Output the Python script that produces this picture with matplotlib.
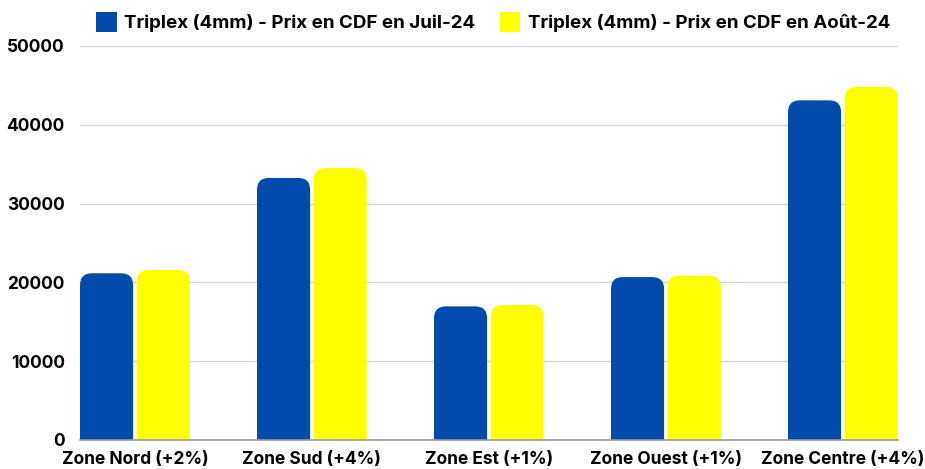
import numpy as np
import matplotlib
matplotlib.use("Agg")
import matplotlib.pyplot as plt
from matplotlib.patches import FancyBboxPatch, Patch

zones = ['Zone Nord (+2%)', 'Zone Sud (+4%)', 'Zone Est (+1%)', 'Zone Ouest (+1%)', 'Zone Centre (+4%)']
prixJuil = [21150, 33250, 16950, 20670, 43100]
prixAout = [21570, 34500, 17120, 20850, 44800]
labelJuil = 'Triplex (4mm) - Prix en CDF en Juil-24'
labelAout = 'Triplex (4mm) - Prix en CDF en Août-24'
yTicks = [0, 10000, 20000, 30000, 40000, 50000]

blue = '#024AAC'
yellow = '#FFFF00'

plt.rcParams['font.family'] = ['Inter', 'DejaVu Sans']
plt.rcParams['font.weight'] = 'bold'

fig = plt.figure(figsize=(9.25, 4.69), dpi=100)
ax = fig.add_axes([0.0865, 0.062, 0.884, 0.840])
ax.set_xlim(-0.31, 4.31)
ax.set_ylim(0, 50000)

x = np.arange(len(zones))
barWidth = 0.30
offset = 0.16

# px -> data conversion, to get same corner radius on both axes
fig.canvas.draw()
pxPerX = ax.transData.transform((1, 0))[0] - ax.transData.transform((0, 0))[0]
pxPerY = ax.transData.transform((0, 10000))[1] - ax.transData.transform((0, 0))[1]
radiusPx = 12
rx = radiusPx / pxPerX
ry = radiusPx / pxPerY * 10000
aspect = (10000 / pxPerY) / (1 / pxPerX)

def roundedBars(xs, values, color):
    for xi, v in zip(xs, values):
        patch = FancyBboxPatch((xi - barWidth / 2, -ry), barWidth, v + ry,
                               boxstyle=f"round,pad=0,rounding_size={rx}",
                               mutation_aspect=aspect, facecolor=color,
                               edgecolor='none', zorder=3, clip_on=True)
        ax.add_patch(patch)

roundedBars(x - offset, prixJuil, blue)
roundedBars(x + offset, prixAout, yellow)

ax.set_yticks(yTicks)
ax.set_yticklabels([str(t) for t in yTicks], fontsize=12.5, fontweight='bold')
ax.set_xticks(x)
ax.set_xticklabels(zones, fontsize=12.5, fontweight='bold')
ax.tick_params(axis='both', length=0)
ax.tick_params(axis='y', pad=11)
ax.tick_params(axis='x', pad=8)

ax.grid(axis='y', color='#D6D6D6', linewidth=1, zorder=0)
for s in ['top', 'right', 'left']:
    ax.spines[s].set_visible(False)
ax.spines['bottom'].set_color('#9A9A9A')
ax.spines['bottom'].set_linewidth(1.2)
ax.spines['bottom'].set_zorder(4)

handles = [Patch(facecolor=blue, label=labelJuil), Patch(facecolor=yellow, label=labelAout)]
fig.legend(handles=handles, loc='upper center', bbox_to_anchor=(0.533, 1.01), ncol=2,
           frameon=False, handlelength=1.1, handleheight=1.25,
           handletextpad=0.4, columnspacing=1.3, prop={'weight': 'bold', 'size': 13.5})

fig.savefig('out.png', dpi=100, facecolor='white')
